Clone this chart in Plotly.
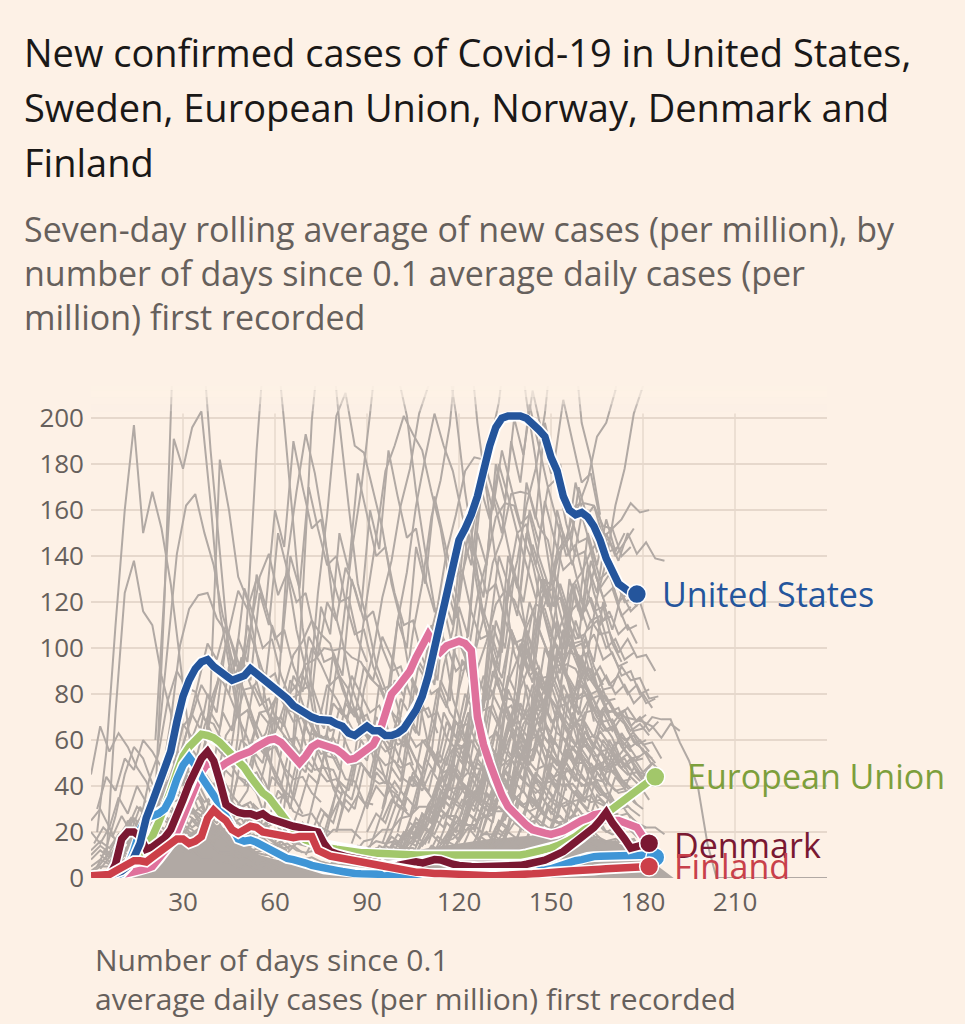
import plotly.graph_objects as go

# ---------------- data ----------------
STEP = 2  # coloured series sampled every 2 days, starting at day 0
us_vals = [0.3, 0.5, 0.8, 1.2, 2, 3, 5, 9, 15, 26,
           33, 40, 47, 55, 68, 79, 86, 91, 94, 95,
           92, 90, 87.5, 86, 87, 88, 91, 89, 87, 85,
           83, 81, 78, 75, 73, 71, 70, 69, 69, 68.5,
           67, 66, 63, 62, 64, 66, 64, 64, 62, 62,
           63, 65, 69, 73, 79, 88, 100, 112, 122, 135,
           147, 152, 158, 166, 178, 188, 196, 200, 201, 201,
           201, 200, 198, 195, 192, 183, 177, 166, 160, 158,
           159, 157, 153, 147, 139, 133, 128, 126, 124, 123.5]
sweden_vals = [0.2, 0.3, 0.5, 0.8, 1, 1.5, 2, 2.5, 3, 4,
               5, 8, 11, 15, 20, 27, 34, 40, 46, 50,
               49, 48, 50, 52, 53, 54, 55, 57, 59, 60,
               60.5, 59, 56, 53, 50, 53, 57, 58.6, 58, 57,
               56, 54, 51.5, 52, 54, 56, 58, 63, 72, 80,
               83, 86, 90, 96, 101, 106, 102, 98.4, 101, 102,
               103, 102, 99, 70, 58, 50, 42, 36, 31, 28,
               25, 23, 21, 20, 19.5, 19, 19.5, 20.5, 22, 24,
               25, 26, 27.5, 28, 27, 25, 25, 24, 23, 22,
               18, 15]
eu_vals = [0.1, 0.2, 0.3, 0.5, 0.8, 1.5, 4, 6, 10, 14,
           18, 24, 30, 38, 46, 53, 57, 60, 62.5, 62,
           61, 59, 56.5, 54, 51, 48, 44, 40, 37, 35,
           32, 28, 24.5, 21, 18, 16.5, 15.5, 15, 14, 13,
           12.5, 12, 11.5, 11, 11, 11, 10.8, 10.5, 10.5, 10.5,
           10.3, 10, 10, 10, 10, 10, 10, 10, 10, 10,
           10, 10, 10, 10, 9.8, 9.5, 9.3, 9.3, 9.3, 9.5,
           10, 10.5, 11, 11.5, 12, 13, 14, 15, 16.5, 18,
           20, 22, 24, 26, 28, 30, 32, 34, 36, 38,
           40, 42, 44]
norway_vals = [0.1, 0.2, 0.3, 0.5, 1, 2, 5, 12, 21, 26,
               27, 28, 30, 35, 43, 49, 52.5, 49, 44, 40,
               36.5, 32, 27, 22, 17, 16, 16.5, 15.5, 14, 13,
               11.5, 9.5, 8.5, 8, 7.5, 6.5, 5.5, 4.8, 4, 3.6,
               3.3, 2.8, 2, 2, 1.8, 1.6, 1.5, 1.5, 1.5, 1.5,
               1.5, 1.5, 1.5, 1.5, 1.6, 1.6, 1.6, 1.7, 1.7, 1.8,
               1.8, 1.8, 1.8, 1.9, 2, 2, 2, 2, 2.2, 2.4,
               2.5, 2.6, 2.8, 3, 3.5, 4, 5, 6, 7, 7.5,
               8, 9, 9.3, 9.5, 9.5, 10, 10, 10, 10, 10,
               10, 10, 9]
denmark_vals = [0.1, 0.2, 0.5, 1, 6, 17, 20, 20, 18, 12.5,
                13.5, 15.5, 17.5, 21, 27, 34, 41, 47, 52, 55,
                51, 42, 32, 30, 28.5, 28, 28, 27, 28, 26,
                25, 24, 23, 22.5, 22, 21.5, 21, 20, 15, 11.5,
                10.5, 9.5, 9, 8.5, 8, 7.5, 7.8, 6.5, 5, 5,
                5.5, 6, 6.4, 7, 6.5, 7.5, 8, 7.8, 6.5, 6,
                5.5, 5, 5, 4.9, 4.9, 4.9, 5, 5, 5, 5,
                5.5, 6, 6.5, 7, 7.8, 9, 10, 11.5, 13.6, 15.5,
                17.5, 19.4, 22, 25, 28.5, 24, 21, 17, 13, 13.6,
                14.5, 15.1]
finland_vals = [1, 1, 1, 1.5, 3, 4.5, 6, 7.5, 7.5, 7,
                9, 11, 13, 14, 17, 17, 15, 16, 18, 26,
                29.5, 27, 25, 21, 19.5, 21, 22.5, 22, 20, 19.5,
                19, 18, 18, 17.5, 18, 18, 18, 12, 10.5, 9.5,
                9, 8.5, 8, 7.5, 7, 6.5, 6, 5, 4.5, 4,
                3.5, 3, 3, 2.5, 2.5, 2, 2, 2, 1.8, 1.5,
                1.5, 1.2, 1, 1, 1, 1, 1, 1, 1, 1.2,
                1.5, 1.5, 1.8, 2, 2, 2.5, 2.5, 2.8, 3, 3,
                3.2, 3.5, 3.5, 3.8, 4, 4.2, 4.3, 4.5, 4.7, 4.8,
                4.9, 5]

series_names = ["European Union", "Sweden", "Norway", "Denmark", "United States", "Finland"]
series_vals = [eu_vals, sweden_vals, norway_vals, denmark_vals, us_vals, finland_vals]
series_colors = ["#a2c76a", "#e0719c", "#3f95d6", "#7a1832", "#24559c", "#cc3f49"]

# other countries (grey), sampled every 3 days from a start day
GREY_STEP = 3
grey_lines = [
    (2, [20, 55, 110, 160, 197, 150, 168, 152, 128, 95, 62, 38, 26, 18, 14, 12]),
    (5, [8, 72, 124, 138, 116, 110, 88, 72, 50, 40, 30, 27, 22]),
    (0, [45, 66, 55, 63, 57, 48, 42, 32, 27, 24, 21, 18]),
    (0, [20, 15, 22, 13, 25, 18, 28, 22, 19, 15, 14, 11, 10]),
    (0, [10, 14, 11, 19, 15, 24, 30, 36, 27, 22, 16, 14, 10, 8]),
    (2, [5, 13, 27, 45, 57, 52, 41, 37, 29, 26, 20, 18, 15]),
    (18, [10, 35, 122, 240, 240, 240, 240, 186, 142, 98, 74, 48, 37, 26]),
    (21, [60, 126, 191, 178, 196, 203, 163, 116, 93, 70, 61, 49, 41, 31, 25]),
    (22, [60, 100, 141, 162, 167, 150, 136, 114, 101, 85, 72, 59, 51, 41, 35]),
    (36, [40, 82, 182, 160, 131, 121, 98, 77, 59, 47, 35, 28]),
    (45, [30, 63, 115, 186, 240, 240, 198, 152, 109, 83, 58, 46]),
    (20, [20, 43, 68, 101, 117, 123, 124, 113, 107, 89, 81, 69, 61, 49, 41, 30]),
    (40, [25, 43, 59, 87, 109, 131, 141, 123, 133, 108, 91, 68, 56, 39, 31]),
    (10, [8, 16, 24, 43, 54, 77, 90, 83, 81, 69, 67, 59, 56, 49, 47, 39, 36, 29, 26]),
    (15, [5, 11, 20, 37, 49, 66, 71, 64, 61, 55, 51, 44, 42, 37, 36, 29, 28, 24, 22]),
    (55, [20, 41, 81, 139, 168, 193, 176, 152, 118, 103, 83, 72, 58, 51, 39, 36, 29]),
    (60, [15, 31, 61, 122, 199, 240, 240, 198, 162, 128, 112, 93, 82, 68, 61, 49]),
    (65, [30, 52, 78, 124, 158, 201, 211, 188, 185, 168, 152, 128, 112, 88, 77, 58, 51, 39]),
    (70, [20, 36, 53, 82, 108, 142, 168, 202, 240, 240, 219, 201, 168, 142, 118, 102, 78, 66, 49, 41]),
    (75, [10, 26, 44, 72, 93, 122, 148, 177, 188, 201, 193, 186, 168, 152, 128, 112, 88, 77, 58, 51, 39]),
    (80, [20, 36, 53, 82, 98, 122, 138, 162, 178, 202, 214, 240, 228, 202, 168, 142, 113, 97, 78, 67, 49]),
    (85, [15, 26, 38, 62, 83, 112, 133, 162, 183, 202, 188, 177, 158, 142, 118, 102, 83, 72, 53, 46, 34, 28]),
    (90, [10, 21, 33, 57, 78, 107, 128, 157, 173, 197, 240, 240, 198, 167, 138, 122, 98, 87, 68, 57, 43, 36]),
    (95, [15, 27, 38, 62, 78, 102, 118, 142, 158, 177, 183, 182, 168, 157, 138, 122, 98, 82, 63, 52, 38]),
    (100, [10, 22, 33, 52, 68, 92, 108, 132, 148, 172, 188, 207, 240, 240, 208, 182, 148, 122, 93, 77, 53, 41]),
    (105, [10, 21, 29, 47, 58, 82, 98, 122, 138, 157, 163, 162, 148, 137, 118, 102, 83, 72, 58, 52, 40, 36, 29]),
    (110, [15, 27, 38, 57, 73, 97, 113, 137, 148, 167, 168, 167, 153, 147, 128, 117, 98, 87, 68]),
    (115, [10, 22, 28, 47, 58, 82, 98, 122, 138, 162, 178, 202, 240, 240, 240, 198, 182, 158]),
    (120, [5, 12, 18, 32, 43, 62, 73, 92, 103, 122, 128, 142, 148, 162, 173, 192, 198, 212, 240, 240, 240]),
    (125, [10, 22, 33, 52, 63, 82, 93, 112, 123, 142, 148, 162, 163, 162, 153, 152, 156, 163, 159, 160]),
    (130, [8, 17, 23, 42, 53, 72, 83, 102, 113, 127, 133, 142, 148, 147, 138, 150, 141, 146, 139, 138]),
    (120, [5, 12, 13, 27, 33, 47, 53, 67, 73, 87, 88, 97, 98, 97, 88, 82, 73, 72, 70, 69, 68, 66, 61, 67, 64]),
    (150, [10, 19, 24, 33, 39, 49, 51, 59, 58, 64, 65, 70, 69, 69, 59, 51, 39, 15, 0,
           0, 0, 0, 0, 0, 0, 0, 0, 0, 0, 0, 0, 0]),
    (150, [20, 42, 58, 82, 98, 122, 138, 162, 178, 202, 214, 240]),
    (130, [10, 22, 28, 47, 58, 72, 78, 92, 93, 102, 103, 112, 106, 107, 98, 104, 96, 97, 90]),
    (140, [5, 12, 18, 32, 38, 52, 58, 72, 73, 82, 83, 92, 86, 87, 78, 79]),
    (100, [5, 9, 11, 19, 24, 37, 43, 57, 63, 77, 78, 87, 78, 77, 68, 62, 53, 52, 46, 47, 40, 42, 36, 37, 30, 31]),
    (95, [3, 7, 9, 17, 20, 32, 38, 52, 58, 57, 48, 47, 38, 37, 28, 27, 20, 22, 16, 17]),
    (110, [5, 11, 14, 22, 26, 37, 40, 52, 56, 67, 68, 74, 73, 72, 63, 60, 50, 50, 43, 42, 33, 32, 26]),
    (55, [40, 56, 67, 79, 84, 93, 95, 100, 99, 100, 96, 94, 87, 83, 74, 69, 59, 51, 40]),
    (35, [20, 32, 43, 62, 68, 82, 83, 90, 83, 82, 73, 72, 63, 62, 53, 52, 43, 42, 33, 32]),
    (40, [15, 27, 33, 52, 58, 72, 73, 80, 73, 72, 58, 57, 48, 47, 38]),
    (45, [20, 32, 38, 57, 63, 77, 83, 97, 103, 112, 106, 102, 88, 82, 68, 62, 48, 44, 33, 30]),
    (0, [2, 5, 5, 11, 13, 19, 21, 27, 29, 29, 23, 21, 17, 16, 11, 11, 8, 9, 6, 7, 5, 6, 4, 6, 4]),
    (5, [3, 7, 8, 13, 15, 21, 25, 33, 34, 31, 25, 23, 19, 19, 15, 15, 11, 12, 9, 10, 8]),
    (10, [5, 9, 11, 16, 17, 23, 27, 34, 29, 26, 21, 21, 17, 16, 12, 13, 10, 11, 11, 15, 14, 17, 17, 21, 21, 21, 17]),
    (80, [8, 11, 11, 16, 17, 21, 21, 26, 27, 31, 31, 31, 27, 27, 23, 23, 19, 19, 16, 17, 14, 15, 12, 13, 9, 9, 5, 5, 2, 0]),
    (90, [5, 9, 9, 15, 17, 23, 25, 31, 33, 39, 39, 39, 34, 33, 29, 29, 25, 25, 21, 22, 19, 19, 15, 15, 11, 11, 7, 7, 4, 5, 3]),
    (100, [3, 6, 7, 11, 11, 16, 17, 21, 21, 26, 27, 31, 27, 27, 24, 25, 21, 21, 17, 17, 14, 15, 12, 13, 9, 9, 4, 4, 2]),
    (0, [1, 2, 2, 4, 5, 9, 11, 17, 19, 19, 14, 13, 9, 9, 6, 7, 4, 6, 3, 5, 3, 5, 4, 6, 5, 7, 6, 9, 9, 13, 13,
         16, 15, 16, 13, 13, 9, 10, 7, 8, 5, 6, 3, 4, 1, 2, 0]),
    (105, [8, 15, 21, 36, 47, 63, 77, 91, 103, 119, 125, 121, 111, 99, 87, 77, 63, 56, 47, 41, 33, 31, 26]),
    (115, [6, 13, 19, 31, 41, 57, 69, 85, 95, 109, 119, 117, 103, 93, 79, 71, 59, 55, 47, 45, 39, 37]),
    (125, [5, 11, 15, 25, 33, 47, 57, 71, 79, 89, 93, 91, 83, 77, 67, 61, 51, 47]),
    (135, [4, 9, 13, 23, 29, 41, 49, 63, 69, 77, 79, 79, 71, 67, 59, 56, 49]),
    (60, [12, 18, 15, 24, 20, 30, 26, 34, 29, 36, 31, 40, 35, 42, 36, 44, 38, 47, 41, 49, 42, 46, 39, 44, 36, 41,
          34, 38, 31, 36, 28, 33, 26, 30, 24, 27, 20, 22, 16, 17, 11]),
    (30, [10, 18, 14, 22, 17, 25, 19, 27, 21, 24, 17, 21, 15, 19, 13, 17, 12, 15, 11, 14, 10, 13, 11, 15, 12, 17,
          14, 19, 15, 21, 16, 22, 17, 20, 14, 18, 12, 14, 8, 9, 4, 3]),
    # early group
    (0, [8, 12, 9, 15, 22, 18, 26, 33, 29, 38, 34, 28, 31, 24, 20, 22, 17, 14, 15, 12, 10, 11, 9, 8]),
    (1, [15, 22, 18, 27, 20, 31, 24, 35, 42, 37, 45, 39, 33, 36, 28, 24, 26, 19, 17, 18, 14, 12]),
    (3, [4, 9, 16, 12, 24, 19, 30, 38, 46, 41, 52, 47, 40, 43, 35, 30, 32, 25, 22, 24, 19, 17, 18, 14, 12]),
    (0, [25, 30, 22, 35, 28, 40, 33, 27, 36, 29, 24, 30, 22, 19, 23, 17, 15, 18, 13, 12]),
    (6, [6, 14, 22, 31, 27, 39, 48, 56, 50, 44, 47, 38, 33, 35, 28, 25, 26, 21, 19, 20, 16, 15]),
    (8, [10, 18, 26, 22, 34, 29, 42, 37, 31, 35, 27, 24, 28, 21, 18, 19, 15, 14, 16, 12]),
    (2, [30, 44, 38, 52, 47, 60, 55, 48, 53, 44, 38, 41, 33, 29, 31, 25, 22, 24]),
    (12, [5, 12, 20, 30, 41, 55, 67, 61, 72, 64, 56, 59, 49, 44, 46, 38, 34, 36, 29, 27, 28, 22, 20]),
    (4, [12, 9, 17, 14, 22, 19, 27, 24, 31, 28, 25, 29, 23, 21, 24, 19, 17, 19, 15, 14, 15, 12, 11, 12]),
    (10, [20, 26, 21, 32, 27, 38, 45, 40, 51, 46, 40, 43, 36, 31, 33, 27, 24, 25, 20, 18]),
    (15, [10, 17, 25, 34, 45, 58, 72, 84, 77, 88, 80, 70, 73, 62, 55, 57, 48, 43, 44, 37, 33]),
    (0, [3, 6, 11, 8, 14, 19, 16, 24, 21, 29, 26, 22, 25, 19, 17, 20, 15, 13, 15, 11, 10, 11, 9, 8, 9, 7, 6, 7, 5]),
    (20, [15, 25, 38, 52, 68, 85, 102, 95, 110, 98, 86, 90, 76, 68, 70, 60, 54, 56, 47, 42, 43, 36]),
    (25, [12, 22, 35, 50, 66, 78, 92, 85, 95, 84, 75, 78, 66, 60, 61, 52, 47, 48, 40, 36]),
    (30, [20, 35, 52, 70, 90, 108, 125, 117, 130, 118, 104, 108, 92, 82, 84, 72, 64, 66, 56, 50]),
    (0, [5, 8, 6, 11, 9, 14, 12, 18, 15, 22, 19, 25, 21, 17, 19, 15, 13, 14, 11, 10, 10, 8, 7, 7]),
    (3, [10, 7, 13, 10, 17, 14, 21, 18, 26, 22, 30, 25, 21, 23, 18, 16, 17, 13, 12, 12, 10]),
    (6, [2, 6, 4, 10, 8, 15, 12, 20, 17, 26, 22, 30, 26, 22, 24, 19, 17, 18, 15, 13, 14, 11]),
    (0, [12, 16, 13, 19, 16, 22, 18, 25, 21, 17, 19, 15, 13, 14, 11, 10, 11, 9]),
    # middle group
    (50, [20, 32, 28, 44, 40, 58, 53, 72, 66, 84, 78, 70, 74, 63, 58, 61, 52, 48, 50, 42, 38]),
    (55, [15, 26, 38, 33, 50, 46, 64, 58, 76, 71, 88, 80, 72, 75, 64, 58, 60, 51, 46]),
    (60, [25, 38, 34, 50, 46, 62, 57, 74, 68, 60, 64, 54, 49, 51, 43, 40, 41, 35]),
    (45, [30, 44, 40, 58, 53, 71, 66, 88, 81, 100, 93, 84, 88, 76, 69, 71, 60, 55, 57, 48]),
    (65, [20, 31, 45, 41, 60, 55, 76, 70, 92, 86, 105, 96, 86, 90, 78, 70, 72, 61, 56, 57]),
    (70, [10, 18, 28, 24, 38, 34, 50, 45, 62, 56, 70, 64, 57, 60, 51, 46, 48, 40, 36]),
    (50, [40, 55, 50, 70, 64, 86, 80, 105, 97, 120, 112, 135, 126, 112, 116, 100, 90, 92, 80, 72, 74, 63]),
    (75, [15, 28, 42, 38, 56, 51, 70, 64, 86, 79, 96, 89, 80, 83, 72, 66, 67, 58, 53, 54]),
    (40, [35, 48, 44, 60, 56, 72, 67, 82, 77, 70, 73, 64, 59, 61, 53, 49, 50, 44, 41, 42, 37]),
    (80, [20, 34, 30, 48, 43, 62, 57, 78, 71, 94, 87, 110, 101, 90, 94, 81, 73, 75, 64]),
    (40, [50, 72, 64, 96, 86, 124, 110, 150, 134, 120, 124, 106, 94, 96, 82, 72, 74, 62, 56]),
    (50, [60, 84, 76, 110, 98, 140, 126, 170, 152, 136, 140, 120, 106, 108, 92, 82, 84, 70]),
    (60, [40, 62, 56, 88, 79, 118, 106, 150, 134, 176, 158, 140, 144, 124, 110, 112, 96, 86]),
    (35, [60, 80, 72, 102, 92, 126, 114, 100, 104, 88, 78, 80, 68, 60, 62, 52]),
    (70, [50, 72, 65, 98, 88, 130, 116, 160, 143, 186, 166, 148, 152, 130, 116, 118, 100, 90]),
    (45, [80, 104, 94, 132, 118, 160, 144, 190, 170, 152, 156, 134, 120, 122, 104, 94]),
    (85, [40, 60, 54, 84, 76, 112, 100, 144, 128, 166, 148, 130, 134, 116, 104, 106, 92]),
    (30, [40, 56, 50, 72, 65, 92, 82, 110, 98, 86, 89, 76, 68, 70, 60, 54, 55, 47]),
    # late, low to middle
    (90, [5, 9, 14, 12, 20, 17, 27, 24, 35, 31, 43, 39, 50, 46, 40, 43, 36, 32, 34, 28, 25, 27, 22, 20, 21, 17, 15,
          16, 12, 11, 10]),
    (95, [8, 14, 12, 21, 18, 30, 26, 40, 36, 52, 47, 61, 56, 49, 52, 44, 40, 42, 35, 31, 33, 27, 25, 26, 21, 19, 20]),
    (100, [6, 11, 18, 15, 26, 22, 35, 31, 46, 41, 58, 52, 68, 62, 54, 57, 48, 44, 46, 38, 34, 36, 29, 27, 28]),
    (105, [4, 8, 14, 12, 20, 17, 28, 25, 37, 33, 47, 42, 56, 51, 63, 57, 50, 53, 45, 41, 42, 35, 32]),
    (110, [5, 10, 16, 14, 24, 21, 33, 29, 42, 38, 54, 49, 65, 59, 72, 66, 58, 61, 52, 47, 49, 41]),
    (115, [3, 7, 12, 10, 18, 15, 25, 22, 33, 30, 43, 39, 52, 47, 57, 52, 46, 48, 41, 37, 38, 32]),
    (120, [4, 9, 15, 13, 22, 19, 30, 27, 40, 36, 50, 45, 58, 53, 47, 49, 42, 38, 39, 33, 30]),
    (125, [5, 10, 17, 15, 26, 22, 35, 31, 45, 40, 54, 49, 60, 55, 48, 50, 43, 39, 40, 34]),
    (100, [10, 16, 14, 22, 19, 28, 25, 34, 31, 38, 35, 42, 39, 45, 41, 37, 40, 34, 31, 33, 28, 26, 27, 23, 21, 22,
           18, 16, 17]),
    (95, [12, 18, 15, 24, 21, 30, 27, 36, 33, 40, 36, 44, 40, 35, 38, 32, 29, 31, 26, 24, 25, 21, 19, 20, 16, 15,
          16, 13, 12, 12, 10]),
    (130, [6, 12, 20, 17, 30, 26, 40, 35, 52, 46, 60, 54, 64, 58, 51, 54, 46, 42]),
    (135, [8, 15, 24, 21, 35, 30, 46, 41, 56, 50, 62, 56, 49, 52, 45, 41]),
    (140, [5, 11, 19, 16, 28, 24, 38, 33, 48, 42, 54, 48, 52, 46, 44]),
    (105, [15, 22, 19, 30, 26, 40, 35, 52, 46, 64, 58, 76, 69, 84, 77, 68, 71, 61, 56, 58, 50, 46, 47, 40]),
    (110, [10, 18, 15, 27, 23, 38, 33, 50, 44, 62, 56, 74, 67, 80, 73, 64, 67, 58, 53, 54, 46, 42, 43]),
    (85, [6, 10, 8, 14, 12, 19, 16, 24, 21, 29, 26, 33, 30, 36, 32, 29, 31, 27, 25, 26, 22, 20, 21, 18, 17, 17, 14,
          13, 13, 11, 10, 10, 8, 8]),
    (140, [12, 20, 17, 30, 26, 41, 36, 52, 46, 60, 54, 63, 57, 60, 55]),
    (150, [10, 18, 15, 27, 23, 36, 32, 44, 39, 48, 44, 50, 46]),
    (120, [20, 28, 24, 36, 31, 46, 40, 58, 51, 70, 63, 80, 72, 86, 78, 70, 73, 64, 60, 62, 55, 52]),
    (130, [15, 24, 21, 34, 30, 46, 41, 60, 53, 72, 64, 80, 72, 77, 70, 74, 68, 71]),
    (95, [12, 20, 31, 27, 42, 37, 55, 49, 68, 61, 82, 74, 96, 87, 108, 98, 88, 92, 80, 74, 76, 66, 60, 62, 54, 50,
          51, 44, 40, 41]),
    (100, [8, 16, 26, 22, 36, 31, 48, 42, 60, 53, 74, 66, 88, 79, 100, 90, 81, 84, 73, 67, 69, 60, 55, 56, 49, 45,
           46, 40]),
    (105, [18, 28, 24, 38, 34, 52, 46, 68, 60, 86, 77, 104, 94, 116, 105, 94, 98, 85, 78, 80, 70, 64, 65, 56, 51, 52]),
    (110, [6, 14, 24, 20, 34, 29, 46, 40, 60, 53, 76, 68, 90, 81, 96, 87, 78, 81, 70, 64, 66, 57, 52, 53]),
    (115, [15, 25, 22, 36, 32, 50, 44, 66, 58, 84, 75, 100, 90, 108, 98, 88, 91, 79, 72, 74, 64, 58, 60]),
    (120, [10, 19, 30, 26, 42, 37, 58, 51, 76, 67, 94, 84, 106, 96, 86, 89, 78, 71, 73, 63, 58, 59, 52]),
    (125, [20, 31, 27, 44, 39, 62, 54, 82, 72, 100, 89, 112, 100, 106, 95, 98, 88, 90, 80, 82]),
    (130, [12, 22, 34, 30, 48, 42, 66, 58, 84, 75, 96, 86, 92, 84, 88, 80, 84, 76, 78]),
    (135, [18, 30, 26, 44, 38, 62, 55, 80, 71, 92, 82, 88, 80, 84, 76, 80, 74]),
    (140, [10, 20, 17, 32, 28, 48, 42, 64, 56, 72, 64, 70, 64, 67, 62]),
    (145, [8, 16, 26, 22, 38, 33, 50, 44, 60, 53, 58, 52, 55, 50]),
    (150, [14, 24, 20, 34, 30, 46, 40, 54, 48, 52, 46, 50]),
    (90, [20, 28, 24, 36, 32, 46, 41, 56, 50, 66, 59, 72, 65, 60, 63, 55, 50, 52, 45, 41, 42, 36, 33, 34, 29, 27, 28,
          24, 22, 22]),
    (95, [25, 34, 30, 44, 39, 56, 50, 68, 61, 80, 72, 88, 80, 72, 75, 66, 60, 62, 54, 49, 50, 43, 40, 41, 36, 33, 34,
          30, 27]),
    (100, [15, 21, 18, 27, 24, 34, 30, 41, 37, 48, 43, 54, 49, 58, 52, 47, 49, 43, 40, 41, 36, 33, 34, 30, 27, 28, 24,
           22, 22, 19]),
    (140, [25, 34, 30, 44, 40, 56, 50, 68, 61, 74, 67, 72, 66, 70, 64, 68]),
    (105, [3, 6, 5, 9, 8, 12, 11, 16, 14, 20, 18, 24, 21, 27, 24, 21, 23, 20, 18, 19, 16, 15, 15, 13, 12, 12, 10, 9]),
    (120, [2, 4, 4, 7, 6, 10, 9, 13, 12, 16, 14, 18, 16, 19, 17, 18, 16, 17, 15, 16, 14, 13, 12]),
    (130, [5, 8, 7, 12, 10, 16, 14, 20, 18, 24, 21, 26, 23, 25, 22, 24, 21, 22]),
    # late, high
    (100, [20, 35, 30, 52, 46, 72, 64, 95, 86, 120, 108, 140, 128, 150, 136, 122, 126, 110, 100, 102, 88, 80, 82, 70]),
    (105, [15, 28, 24, 44, 38, 64, 56, 88, 78, 112, 100, 132, 120, 145, 132, 118, 122, 106, 96, 98, 84, 77, 78]),
    (110, [25, 40, 35, 60, 52, 84, 74, 110, 98, 138, 124, 160, 146, 170, 155, 140, 145, 128, 116, 118, 102, 94]),
    (115, [10, 22, 19, 38, 33, 58, 51, 82, 72, 108, 96, 130, 118, 150, 136, 158, 144, 130, 134, 118, 108, 110]),
    (120, [20, 34, 30, 52, 46, 76, 67, 102, 90, 130, 116, 154, 140, 170, 156, 142, 146, 130, 120, 122]),
    (95, [30, 48, 42, 70, 62, 96, 86, 126, 113, 154, 140, 176, 160, 186, 170, 154, 158, 140, 128, 130, 114, 104, 106,
          92, 84]),
    (125, [15, 28, 24, 44, 38, 64, 56, 88, 78, 112, 100, 128, 116, 134, 122, 126, 114, 118]),
    (130, [20, 36, 31, 56, 49, 80, 70, 104, 92, 126, 112, 138, 126, 132, 120, 124, 118]),
    (105, [40, 60, 54, 86, 77, 118, 105, 150, 136, 180, 164, 200, 184, 212, 194, 176, 180, 160, 146, 148, 130, 118]),
    (115, [30, 50, 44, 76, 68, 108, 96, 140, 126, 172, 156, 198, 180, 208, 190, 172, 176, 156, 142, 144]),
    (135, [25, 42, 37, 64, 56, 90, 80, 116, 104, 136, 124, 150, 140, 146, 152]),
    (100, [50, 70, 63, 94, 84, 122, 110, 150, 136, 170, 156, 180, 166, 150, 154, 136, 124, 126, 110, 100, 102, 88, 80]),
    (90, [30, 46, 41, 64, 57, 86, 77, 110, 99, 132, 120, 150, 138, 124, 128, 112, 102, 104, 90, 82, 84, 72, 66, 67,
          58]),
    (140, [20, 36, 32, 56, 50, 80, 72, 104, 94, 120, 108, 124, 116, 120, 108]),
    (110, [60, 82, 74, 106, 96, 136, 122, 166, 150, 190, 172, 206, 188, 170, 174, 154, 140, 142, 124, 112, 114]),
    (110, [30, 42, 37, 56, 50, 72, 64, 90, 80, 108, 97, 120, 108, 98, 101, 89, 82, 84, 74, 68, 69, 60, 55]),
    (120, [25, 38, 34, 54, 48, 74, 66, 96, 85, 118, 105, 128, 115, 120, 108, 112, 100, 104, 95, 98]),
    (130, [30, 46, 41, 66, 58, 90, 80, 112, 100, 128, 114, 122, 110, 116, 106, 110, 102]),
    (115, [40, 56, 50, 76, 68, 100, 90, 128, 114, 150, 136, 164, 148, 134, 138, 122, 112, 114, 100, 92, 94]),
    (125, [35, 52, 46, 74, 66, 102, 90, 132, 118, 160, 144, 172, 156, 162, 148, 152, 140, 144]),
    (135, [30, 48, 43, 72, 64, 100, 89, 130, 116, 150, 136, 156, 142, 150]),
]

# envelope of the densest grey mass near the bottom
grey_fill_days = [0, 5, 10, 15, 20, 25, 30, 35, 38, 42, 46, 50, 55, 60, 70, 80, 90, 100,
                  110, 120, 130, 140, 150, 160, 170, 176, 182, 186, 190]
grey_fill_vals = [2, 4, 6, 8, 10, 13, 17, 22, 25, 21, 17, 14, 10, 8, 6, 6, 7, 10,
                  13, 15, 17, 18, 19, 18, 16, 13, 8, 4, 0]

y_ticks = [0, 20, 40, 60, 80, 100, 120, 140, 160, 180, 200]
x_ticks = [30, 60, 90, 120, 150, 180, 210]

labels = [("United States", "#24559c"), ("European Union", "#7d9f3c"),
          ("Denmark", "#7a1832"), ("Finland", "#c8404a")]
label_pos = {"United States": (185.5, 123.5), "European Union": (193.7, 44.3),
             "Denmark": (189.4, 14.3), "Finland": (189.4, 5.2)}

# ---------------- figure ----------------
BG = "#FDF1E6"
GREY = "#b1a9a4"
TXT = "#66605c"
FONT = "Open Sans"

fig = go.Figure()

fig.add_trace(go.Scatter(x=grey_fill_days, y=grey_fill_vals, mode="lines", fill="tozeroy",
                         fillcolor=GREY, line=dict(width=0, color=GREY),
                         hoverinfo="skip", showlegend=False))
for s, vals in grey_lines:
    xs = [s + GREY_STEP * i for i in range(len(vals))]
    fig.add_trace(go.Scatter(x=xs, y=vals, mode="lines",
                             line=dict(color=GREY, width=2),
                             hoverinfo="skip", showlegend=False))

for name, vals, col in zip(series_names, series_vals, series_colors):
    xs = [STEP * i for i in range(len(vals))]
    fig.add_trace(go.Scatter(x=xs, y=vals, mode="lines",
                             line=dict(color="white", width=11),
                             hoverinfo="skip", showlegend=False))
    fig.add_trace(go.Scatter(x=xs, y=vals, mode="lines", name=name,
                             line=dict(color=col, width=7.5),
                             showlegend=False))

for name, vals, col in zip(series_names, series_vals, series_colors):
    xs = [STEP * i for i in range(len(vals))]
    fig.add_trace(go.Scatter(x=[xs[-1]], y=[vals[-1]], mode="markers", cliponaxis=False,
                             marker=dict(size=19, color=col, line=dict(color="white", width=1.5)),
                             hoverinfo="skip", showlegend=False))

# plot geometry (pixels)
L, R, T, B = 91, 138, 386, 146
W, H = 965, 1024
PW, PH = W - L - R, H - T - B


def px(x):
    return (x - L) / PW


def py(y):
    return (H - B - y) / PH


shapes = []
for xt in x_ticks:
    shapes.append(dict(type="line", xref="x", yref="y", x0=xt, x1=xt, y0=0, y1=202,
                       line=dict(color="#e6d8cc", width=1.5), layer="below"))
# fade at the top of the plot
for (y0, y1, op) in [(203, 206, 0.25), (206, 209, 0.5), (209, 212, 0.75), (212, 216, 0.95)]:
    shapes.append(dict(type="rect", xref="paper", yref="y", x0=0, x1=1, y0=y0, y1=y1,
                       fillcolor=BG, opacity=op, line=dict(width=0), layer="above"))

annotations = []
for text, col in labels:
    lx, ly = label_pos[text]
    annotations.append(dict(x=lx, y=ly, xref="x", yref="y", text=text, showarrow=False,
                            xanchor="left", yanchor="middle",
                            font=dict(family=FONT, size=34, color=col)))

title_lines = ["New confirmed cases of Covid-19 in United States,",
               "Sweden, European Union, Norway, Denmark and",
               "Finland"]
for i, t in enumerate(title_lines):
    annotations.append(dict(x=px(22), y=py(52 + 55 * i), xref="paper", yref="paper", text=t,
                            showarrow=False, xanchor="left", yanchor="middle",
                            font=dict(family=FONT, size=38, color="#1a1817")))
sub_lines = ["Seven-day rolling average of new cases (per million), by",
             "number of days since 0.1 average daily cases (per",
             "million) first recorded"]
for i, t in enumerate(sub_lines):
    annotations.append(dict(x=px(22), y=py(229 + 44 * i), xref="paper", yref="paper", text=t,
                            showarrow=False, xanchor="left", yanchor="middle",
                            font=dict(family=FONT, size=34, color=TXT)))
annotations.append(dict(x=px(93), y=py(979), xref="paper", yref="paper",
                        text="Number of days since 0.1<br>average daily cases (per million) first recorded",
                        showarrow=False, xanchor="left", yanchor="middle", align="left",
                        font=dict(family=FONT, size=30, color=TXT)))

fig.update_layout(
    width=W, height=H,
    margin=dict(l=L, r=R, t=T, b=B),
    paper_bgcolor=BG, plot_bgcolor=BG,
    shapes=shapes, annotations=annotations,
    showlegend=False,
    xaxis=dict(range=[0, 240], tickvals=x_ticks, ticktext=[str(v) for v in x_ticks],
               showgrid=False, zeroline=False, showline=False, ticks="",
               tickfont=dict(family=FONT, size=26, color=TXT), ticklabelstandoff=6,
               fixedrange=True),
    yaxis=dict(range=[0, 214], tickvals=y_ticks, ticktext=[str(v) for v in y_ticks],
               showgrid=True, gridcolor="#e6d8cc", gridwidth=1.5, zeroline=False,
               showline=False, ticks="", ticklabelstandoff=6,
               tickfont=dict(family=FONT, size=26, color=TXT), fixedrange=True),
)

fig.write_html("out.html", config={"displayModeBar": False},
               post_script="document.body.style.margin='0';document.body.style.overflow='hidden';")
